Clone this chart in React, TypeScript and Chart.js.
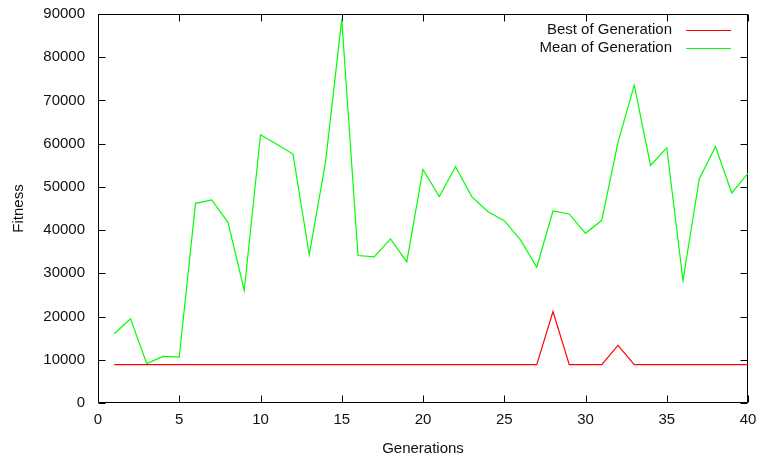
import { useEffect, useRef } from "react";
import { Chart, registerables } from "chart.js";

Chart.register(...registerables);

const generations = [
  1, 2, 3, 4, 5, 6, 7, 8, 9, 10, 11, 12, 13, 14, 15, 16, 17, 18, 19, 20,
  21, 22, 23, 24, 25, 26, 27, 28, 29, 30, 31, 32, 33, 34, 35, 36, 37, 38, 39, 40,
];

const bestOfGeneration = [
  8870, 8870, 8870, 8870, 8870, 8870, 8870, 8870, 8870, 8870,
  8870, 8870, 8870, 8870, 8870, 8870, 8870, 8870, 8870, 8870,
  8870, 8870, 8870, 8870, 8870, 8870, 8870, 21180, 8870, 8870,
  8870, 13330, 8870, 8870, 8870, 8870, 8870, 8870, 8870, 8870,
];

const meanOfGeneration = [
  16030, 19490, 9100, 10780, 10620, 46190, 46970, 41800, 26030, 62060,
  59850, 57600, 34340, 55660, 88770, 34110, 33800, 37970, 32650, 54040,
  47740, 54670, 47740, 44270, 42190, 37740, 31410, 44430, 43740, 39260,
  42260, 60280, 73530, 54970, 59050, 28340, 51820, 59350, 48590, 53120,
];

const seriesLabels = ["Best of Generation", "Mean of Generation"];
const seriesColors = ["#ff0000", "#00ff00"];
const xTickValues = [0, 5, 10, 15, 20, 25, 30, 35, 40];
const yTickValues = [0, 10000, 20000, 30000, 40000, 50000, 60000, 70000, 80000, 90000];
const xTitle = "Generations";
const yTitle = "Fitness";

const FONT = "'Liberation Sans', Arial, sans-serif";
const TEXT_COLOR = "#111";

const framePlugin = {
  id: "gnuplotFrame",
  beforeDatasetsDraw(chart: any) {
    const { ctx, chartArea } = chart;
    const xs = chart.scales.x;
    const ys = chart.scales.y;
    const L = Math.round(chartArea.left) + 0.5;
    const R = Math.round(chartArea.right) - 0.5;
    const T = Math.round(chartArea.top) + 0.5;
    const B = Math.round(chartArea.bottom) - 0.5;
    const len = 7;
    ctx.save();
    ctx.strokeStyle = "#000";
    ctx.lineWidth = 1;
    ctx.beginPath();
    ctx.rect(L, T, R - L, B - T);
    for (const v of xTickValues) {
      const px = Math.round(xs.getPixelForValue(v)) + 0.5;
      ctx.moveTo(px, B);
      ctx.lineTo(px, B - len);
      ctx.moveTo(px, T);
      ctx.lineTo(px, T + len);
    }
    for (const v of yTickValues) {
      const py = Math.round(ys.getPixelForValue(v)) + 0.5;
      ctx.moveTo(L, py);
      ctx.lineTo(L + len, py);
      ctx.moveTo(R, py);
      ctx.lineTo(R - len, py);
    }
    ctx.stroke();
    ctx.restore();
  },
  afterDraw(chart: any) {
    const { ctx, chartArea } = chart;
    ctx.save();
    ctx.font = `15px ${FONT}`;
    ctx.textAlign = "right";
    ctx.textBaseline = "middle";
    const textRight = chartArea.right - 76;
    const lineStart = chartArea.right - 62;
    const lineEnd = chartArea.right - 17;
    chart.data.datasets.forEach((ds: any, i: number) => {
      const y = chartArea.top + 16 + i * 18;
      ctx.fillStyle = TEXT_COLOR;
      ctx.fillText(ds.label, textRight, y);
      ctx.strokeStyle = ds.borderColor;
      ctx.lineWidth = 1;
      ctx.beginPath();
      ctx.moveTo(lineStart, Math.round(y) + 0.5);
      ctx.lineTo(lineEnd, Math.round(y) + 0.5);
      ctx.stroke();
    });
    ctx.restore();
  },
};

export default function App() {
  const canvasRef = useRef<HTMLCanvasElement | null>(null);

  useEffect(() => {
    const canvas = canvasRef.current;
    if (!canvas) return;
    const chart = new Chart(canvas, {
      type: "line",
      data: {
        datasets: [
          {
            label: seriesLabels[0],
            data: generations.map((g, i) => ({ x: g, y: bestOfGeneration[i] })),
            borderColor: seriesColors[0],
            backgroundColor: seriesColors[0],
            borderWidth: 1.2,
            pointRadius: 0,
            tension: 0,
            fill: false,
          },
          {
            label: seriesLabels[1],
            data: generations.map((g, i) => ({ x: g, y: meanOfGeneration[i] })),
            borderColor: seriesColors[1],
            backgroundColor: seriesColors[1],
            borderWidth: 1.2,
            pointRadius: 0,
            tension: 0,
            fill: false,
          },
        ],
      },
      options: {
        responsive: false,
        animation: false,
        devicePixelRatio: 1,
        layout: { padding: { left: 0, right: 10, top: 14, bottom: 0 } },
        plugins: {
          legend: { display: false },
          tooltip: { enabled: false },
        },
        scales: {
          x: {
            type: "linear",
            min: 0,
            max: 40,
            afterBuildTicks: (scale: any) => {
              scale.ticks = xTickValues.map((v) => ({ value: v }));
            },
            afterFit: (scale: any) => {
              scale.height = 59;
              scale.paddingLeft = 0;
              scale.paddingRight = 0;
            },
            grid: { display: false, drawTicks: false },
            border: { display: false },
            ticks: {
              padding: 8,
              color: TEXT_COLOR,
              font: { family: FONT, size: 15 },
              maxRotation: 0,
              autoSkip: false,
            },
            title: {
              display: true,
              text: xTitle,
              color: TEXT_COLOR,
              font: { family: FONT, size: 15 },
              padding: { top: 0, bottom: 4 },
            },
          },
          y: {
            type: "linear",
            min: 0,
            max: 90000,
            afterBuildTicks: (scale: any) => {
              scale.ticks = yTickValues.map((v) => ({ value: v }));
            },
            afterFit: (scale: any) => {
              scale.width = 98;
              scale.paddingTop = 0;
              scale.paddingBottom = 0;
            },
            grid: { display: false, drawTicks: false },
            border: { display: false },
            ticks: {
              padding: 13,
              color: TEXT_COLOR,
              font: { family: FONT, size: 15 },
              autoSkip: false,
              callback: (v: any) => String(v),
            },
            title: {
              display: true,
              text: yTitle,
              color: TEXT_COLOR,
              font: { family: FONT, size: 15 },
              padding: { top: 10, bottom: 0 },
            },
          },
        },
      },
      plugins: [framePlugin],
    });
    return () => chart.destroy();
  }, []);

  return (
    <div style={{ position: "absolute", left: 0, top: 0, width: 758, height: 462 }}>
      <canvas ref={canvasRef} width={758} height={462} style={{ width: 758, height: 462 }} />
    </div>
  );
}
